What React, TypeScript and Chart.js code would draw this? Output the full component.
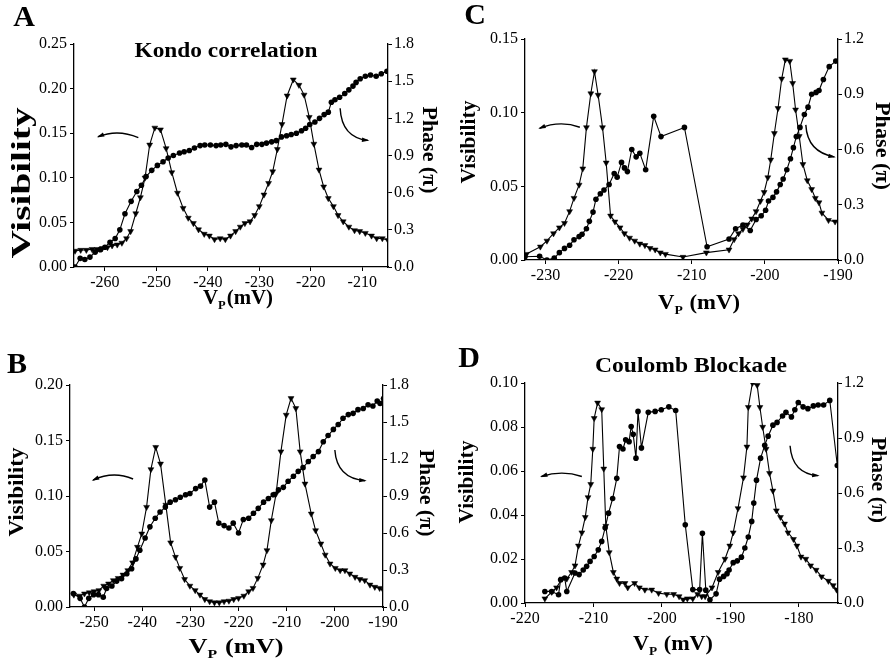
import React, { useEffect, useRef } from "react";
import { Chart, registerables } from "chart.js";

Chart.register(...registerables);

const FONT = "'Liberation Serif', 'Times New Roman', Times, serif";

// ---------------- Panel A : Kondo correlation ----------------
const aXTicks = [-260, -250, -240, -230, -220, -210];
const aVisTicks = [0, 0.05, 0.1, 0.15, 0.2, 0.25];
const aPhaseTicks = [0, 0.3, 0.6, 0.9, 1.2, 1.5, 1.8];
const aVisX = [-265.8, -264.7, -263.6, -262.5, -261.5, -260.5, -259.5, -258.6, -257.6, -256.7, -255.8, -255.0, -254.0, -253.1, -252.2, -251.3, -250.3, -249.2, -248.1, -247.0, -245.9, -244.8, -243.8, -242.8, -241.8, -240.7, -239.7, -238.7, -237.6, -236.6, -235.6, -234.6, -233.7, -232.8, -231.8, -230.9, -230.0, -229.1, -228.2, -227.4, -226.5, -225.6, -224.6, -223.4, -222.3, -221.3, -220.3, -219.4, -218.4, -217.5, -216.6, -215.6, -214.7, -213.7, -212.6, -211.5, -210.5, -209.4, -208.2, -207.2, -206.1, -205.0];
const aVisY = [0.018, 0.019, 0.019, 0.020, 0.020, 0.021, 0.022, 0.024, 0.025, 0.027, 0.032, 0.040, 0.060, 0.078, 0.100, 0.137, 0.156, 0.154, 0.133, 0.106, 0.083, 0.066, 0.055, 0.049, 0.042, 0.037, 0.035, 0.031, 0.032, 0.031, 0.035, 0.040, 0.045, 0.049, 0.051, 0.058, 0.068, 0.081, 0.094, 0.107, 0.132, 0.160, 0.192, 0.210, 0.204, 0.193, 0.168, 0.138, 0.109, 0.090, 0.077, 0.068, 0.058, 0.051, 0.045, 0.041, 0.040, 0.038, 0.035, 0.032, 0.032, 0.030];
const aPhaseX = [-265.8, -264.8, -263.9, -262.9, -261.9, -260.9, -260.0, -259.0, -258.0, -257.1, -256.1, -254.9, -253.8, -252.9, -252.0, -250.9, -249.8, -248.7, -247.7, -246.7, -245.5, -244.6, -243.6, -242.6, -241.5, -240.6, -239.5, -238.4, -237.5, -236.5, -235.5, -234.5, -233.4, -232.5, -231.5, -230.5, -229.5, -228.6, -227.6, -226.7, -225.7, -224.7, -223.8, -222.8, -221.8, -221.0, -220.2, -219.2, -218.3, -217.4, -216.6, -216.0, -215.3, -214.4, -213.4, -212.6, -211.8, -211.2, -210.4, -209.4, -208.4, -207.3, -206.3, -205.2];
const aPhaseY = [0.0, 0.07, 0.06, 0.08, 0.12, 0.14, 0.16, 0.20, 0.23, 0.30, 0.43, 0.53, 0.61, 0.66, 0.73, 0.78, 0.82, 0.85, 0.88, 0.90, 0.92, 0.93, 0.94, 0.96, 0.98, 0.985, 0.985, 0.98, 0.985, 0.99, 0.97, 0.98, 0.985, 0.985, 0.965, 0.99, 0.99, 1.0, 1.01, 1.02, 1.05, 1.06, 1.07, 1.08, 1.10, 1.12, 1.15, 1.17, 1.20, 1.23, 1.25, 1.33, 1.35, 1.37, 1.40, 1.43, 1.46, 1.49, 1.52, 1.54, 1.55, 1.54, 1.56, 1.58];

// ---------------- Panel B ----------------
const bXTicks = [-250, -240, -230, -220, -210, -200, -190];
const bVisTicks = [0, 0.05, 0.1, 0.15, 0.2];
const bPhaseTicks = [0, 0.3, 0.6, 0.9, 1.2, 1.5, 1.8];
const bVisX = [-254.2, -253.0, -252.0, -251.0, -250.0, -249.0, -248.0, -247.0, -246.0, -245.0, -244.0, -243.0, -242.0, -241.0, -240.1, -239.1, -238.2, -237.2, -236.2, -235.1, -234.1, -233.1, -232.2, -231.2, -230.1, -229.0, -228.0, -227.0, -226.0, -225.0, -224.0, -223.0, -222.0, -221.0, -220.0, -218.9, -217.9, -217.0, -216.0, -214.9, -214.1, -213.2, -212.2, -211.2, -210.1, -209.1, -208.1, -207.2, -206.2, -204.9, -204.0, -202.9, -202.0, -201.0, -199.9, -198.9, -197.9, -196.9, -195.8, -194.8, -193.8, -192.7, -191.7, -190.7, -189.9];
const bVisY = [0.011, 0.010, 0.012, 0.013, 0.014, 0.015, 0.019, 0.021, 0.024, 0.026, 0.029, 0.033, 0.040, 0.054, 0.066, 0.090, 0.124, 0.144, 0.129, 0.092, 0.058, 0.045, 0.035, 0.025, 0.019, 0.015, 0.011, 0.007, 0.005, 0.004, 0.004, 0.005, 0.0055, 0.007, 0.008, 0.010, 0.014, 0.017, 0.026, 0.038, 0.051, 0.078, 0.102, 0.140, 0.173, 0.188, 0.179, 0.140, 0.111, 0.084, 0.069, 0.057, 0.047, 0.039, 0.035, 0.033, 0.033, 0.030, 0.027, 0.025, 0.024, 0.020, 0.018, 0.017, 0.015];
const bPhaseX = [-254.3, -252.9, -252.0, -251.1, -250.1, -249.1, -248.1, -247.4, -246.3, -245.3, -244.3, -243.2, -242.2, -241.3, -240.5, -239.4, -238.4, -237.3, -236.3, -235.2, -234.2, -233.1, -232.1, -231.0, -230.1, -228.9, -227.9, -227.0, -226.0, -225.0, -224.1, -223.0, -222.0, -221.1, -220.0, -219.0, -217.9, -216.9, -215.9, -214.8, -213.8, -212.8, -211.7, -210.7, -209.7, -208.6, -207.6, -206.6, -205.5, -204.5, -203.4, -202.4, -201.4, -200.3, -199.3, -198.3, -197.2, -196.2, -195.2, -194.1, -193.1, -192.1, -191.2, -190.6, -189.9];
const bPhaseY = [0.11, 0.07, 0.0, 0.07, 0.10, 0.10, 0.08, 0.15, 0.17, 0.21, 0.23, 0.27, 0.31, 0.39, 0.46, 0.56, 0.65, 0.72, 0.77, 0.81, 0.85, 0.87, 0.89, 0.91, 0.92, 0.96, 0.98, 1.03, 0.81, 0.85, 0.68, 0.66, 0.64, 0.68, 0.60, 0.71, 0.72, 0.76, 0.80, 0.85, 0.88, 0.91, 0.95, 0.97, 1.02, 1.06, 1.10, 1.13, 1.18, 1.22, 1.26, 1.34, 1.39, 1.44, 1.48, 1.53, 1.56, 1.57, 1.60, 1.61, 1.64, 1.63, 1.67, 1.65, 1.69];

// ---------------- Panel C ----------------
const cXTicks = [-230, -220, -210, -200, -190];
const cVisTicks = [0, 0.05, 0.1, 0.15];
const cPhaseTicks = [0, 0.3, 0.6, 0.9, 1.2];
const cVisX = [-232.6, -230.7, -229.8, -228.9, -228.1, -227.4, -226.7, -226.1, -225.4, -224.9, -224.4, -223.8, -223.3, -222.8, -222.2, -221.7, -221.1, -220.5, -219.8, -219.2, -218.5, -217.8, -217.1, -216.4, -215.7, -215.0, -214.3, -213.6, -211.2, -208.0, -204.9, -204.2, -203.6, -203.0, -202.4, -201.8, -201.2, -200.6, -200.1, -199.6, -199.2, -198.7, -198.2, -197.7, -197.2, -196.6, -196.2, -195.8, -195.3, -194.8, -194.2, -193.6, -193.1, -192.6, -192.2, -191.3, -190.4];
const cVisY = [0.004, 0.009, 0.013, 0.018, 0.022, 0.025, 0.033, 0.042, 0.051, 0.062, 0.090, 0.113, 0.128, 0.112, 0.090, 0.066, 0.030, 0.026, 0.022, 0.018, 0.015, 0.013, 0.011, 0.010, 0.008, 0.007, 0.005, 0.004, 0.002, 0.005, 0.007, 0.014, 0.018, 0.021, 0.024, 0.028, 0.033, 0.040, 0.046, 0.056, 0.068, 0.086, 0.103, 0.123, 0.136, 0.135, 0.120, 0.102, 0.084, 0.065, 0.054, 0.048, 0.042, 0.039, 0.032, 0.027, 0.026];
const cPhaseX = [-232.8, -230.8, -229.8, -228.8, -228.1, -227.4, -226.7, -226.1, -225.4, -225.0, -224.4, -224.0, -223.5, -223.1, -222.5, -222.0, -221.3, -220.6, -220.2, -219.6, -219.2, -218.8, -218.2, -217.6, -217.1, -216.3, -215.2, -214.2, -211.0, -207.9, -204.9, -204.0, -203.0, -202.0, -201.2, -200.5, -199.9, -199.5, -198.9, -198.4, -197.9, -197.5, -197.0, -196.5, -196.1, -195.7, -195.2, -194.6, -194.1, -193.6, -193.0, -192.6, -192.0, -191.2, -190.3];
const cPhaseY = [0.018, 0.02, 0.0, 0.01, 0.04, 0.063, 0.08, 0.11, 0.127, 0.14, 0.17, 0.21, 0.26, 0.33, 0.36, 0.38, 0.41, 0.47, 0.45, 0.53, 0.50, 0.48, 0.60, 0.56, 0.58, 0.49, 0.78, 0.67, 0.72, 0.072, 0.114, 0.17, 0.19, 0.16, 0.22, 0.24, 0.27, 0.32, 0.34, 0.37, 0.41, 0.44, 0.49, 0.55, 0.61, 0.67, 0.72, 0.79, 0.83, 0.90, 0.91, 0.92, 0.98, 1.05, 1.08];

// ---------------- Panel D : Coulomb Blockade ----------------
const dXTicks = [-220, -210, -200, -190, -180];
const dVisTicks = [0, 0.02, 0.04, 0.06, 0.08, 0.1];
const dPhaseTicks = [0, 0.3, 0.6, 0.9, 1.2];
const dVisX = [-217.1, -216.1, -215.4, -214.6, -213.9, -213.2, -212.7, -212.2, -211.7, -211.2, -210.8, -210.4, -210.1, -209.9, -209.4, -208.8, -208.5, -208.2, -207.7, -207.1, -206.6, -206.2, -205.4, -205.0, -204.0, -203.3, -202.5, -201.5, -200.5, -199.3, -198.3, -197.5, -196.9, -196.3, -195.5, -194.8, -194.2, -193.7, -192.7, -191.8, -190.8, -190.1, -189.6, -188.9, -188.1, -187.6, -187.4, -186.8, -186.1, -185.7, -185.3, -184.8, -184.3, -183.8, -183.3, -182.7, -182.1, -181.6, -180.8, -180.3, -179.7, -179.0, -178.3, -177.5, -176.7, -175.7, -175.0, -174.5];
const dVisY = [0.002, 0.005, 0.007, 0.011, 0.011, 0.014, 0.017, 0.026, 0.032, 0.039, 0.048, 0.054, 0.070, 0.084, 0.091, 0.088, 0.061, 0.035, 0.023, 0.014, 0.011, 0.009, 0.009, 0.007, 0.009, 0.007, 0.006, 0.006, 0.0045, 0.004, 0.004, 0.003, 0.0015, 0.002, 0.002, 0.004, 0.003, 0.003, 0.007, 0.014, 0.020, 0.026, 0.032, 0.043, 0.057, 0.071, 0.089, 0.100, 0.099, 0.089, 0.080, 0.070, 0.059, 0.051, 0.042, 0.039, 0.036, 0.032, 0.029, 0.026, 0.021, 0.020, 0.017, 0.015, 0.012, 0.010, 0.008, 0.006];
const dPhaseX = [-217.1, -216.1, -215.1, -214.8, -214.2, -213.9, -212.7, -212.1, -211.5, -211.0, -210.5, -209.9, -209.3, -208.8, -208.3, -207.8, -207.2, -206.6, -206.2, -205.7, -205.3, -204.8, -204.5, -204.2, -203.8, -203.5, -203.0, -202.0, -201.0, -200.1, -199.0, -198.0, -196.6, -195.5, -194.5, -194.1, -193.6, -193.0, -192.1, -191.6, -191.0, -190.5, -190.2, -189.6, -189.0, -188.4, -187.9, -187.4, -186.9, -186.6, -186.2, -185.6, -185.0, -184.5, -183.8, -183.2, -182.4, -181.9, -181.1, -180.6, -180.1, -179.4, -178.7, -177.9, -177.2, -176.4, -175.5, -174.4];
const dPhaseY = [0.063, 0.063, 0.045, 0.127, 0.136, 0.063, 0.164, 0.155, 0.18, 0.20, 0.227, 0.254, 0.29, 0.336, 0.41, 0.49, 0.57, 0.68, 0.854, 0.84, 0.89, 0.88, 0.963, 0.92, 0.79, 1.045, 0.846, 1.04, 1.045, 1.054, 1.07, 1.05, 0.427, 0.073, 0.073, 0.38, 0.07, 0.018, 0.05, 0.13, 0.145, 0.16, 0.18, 0.22, 0.23, 0.25, 0.30, 0.36, 0.445, 0.545, 0.67, 0.79, 0.86, 0.91, 0.97, 0.985, 1.02, 1.04, 1.015, 1.054, 1.094, 1.07, 1.06, 1.075, 1.08, 1.08, 1.105, 0.75];

// Curved guide arrows, in data units of (x, visibility): start, control, end (head at end)
const aArrows = [[-253.5, 0.145, -257.5, 0.155, -261.3, 0.146], [-214.3, 0.178, -214.0, 0.145, -208.9, 0.142]];
const bArrows = [[-241.9, 0.1153, -246.0, 0.123, -250.2, 0.1144], [-200.0, 0.1415, -199.6, 0.116, -193.7, 0.1138]];
const cArrows = [[-225.3, 0.0901, -228.0, 0.095, -230.8, 0.0894], [-194.4, 0.0917, -194.2, 0.0733, -190.5, 0.070]];
const dArrows = [[-211.7, 0.0575, -214.6, 0.0606, -217.6, 0.0575], [-181.3, 0.0715, -181.0, 0.0588, -177.2, 0.0579]];

type Spec = {
  id: string;
  left: number; top: number; w: number; h: number;
  area: { l: number; r: number; t: number; b: number };
  xMin: number; xMax: number; xTicks: number[];
  visMax: number; visTicks: number[]; phMax: number; phTicks: number[];
  visX: number[]; visY: number[]; phX: number[]; phY: number[];
  arrows: number[][];
  letter: [string, number, number];
  title?: [string, number, number, number];
  xTitle: [string, number, number, number];
  visLabel: [number, number, number, number];
  phLabel: [number, number, number];
};

const PANELS: Spec[] = [
  {
    id: "A", left: 0, top: 0, w: 445, h: 330,
    area: { l: 74, r: 388, t: 44, b: 267 },
    xMin: -266, xMax: -205, xTicks: aXTicks,
    visMax: 0.25, visTicks: aVisTicks, phMax: 1.8, phTicks: aPhaseTicks,
    visX: aVisX, visY: aVisY, phX: aPhaseX, phY: aPhaseY,
    arrows: aArrows,
    letter: ["A", 24, 18],
    title: ["Kondo correlation", 226, 52, 183],
    xTitle: ["(mV)", 238, 299, 70],
    visLabel: [23, 183, 151, 27],
    phLabel: [429, 150, 87],
  },
  {
    id: "C", left: 445, top: 0, w: 445, h: 330,
    area: { l: 80, r: 393, t: 39, b: 260 },
    xMin: -232.8, xMax: -190, xTicks: cXTicks,
    visMax: 0.15, visTicks: cVisTicks, phMax: 1.2, phTicks: cPhaseTicks,
    visX: cVisX, visY: cVisY, phX: cPhaseX, phY: cPhaseY,
    arrows: cArrows,
    letter: ["C", 475, 16],
    xTitle: [" (mV)", 699, 304, 82],
    visLabel: [469, 142, 83, 22],
    phLabel: [882, 146, 88],
  },
  {
    id: "B", left: 0, top: 330, w: 445, h: 334,
    area: { l: 70, r: 383, t: 55, b: 277 },
    xMin: -255, xMax: -190, xTicks: bXTicks,
    visMax: 0.2, visTicks: bVisTicks, phMax: 1.8, phTicks: bPhaseTicks,
    visX: bVisX, visY: bVisY, phX: bPhaseX, phY: bPhaseY,
    arrows: bArrows,
    letter: ["B", 17, 365],
    xTitle: [" (mV)", 236, 648, 95],
    visLabel: [17, 492, 89, 22],
    phLabel: [426, 493, 87],
  },
  {
    id: "D", left: 445, top: 330, w: 445, h: 334,
    area: { l: 80, r: 393, t: 53, b: 273 },
    xMin: -220, xMax: -174.3, xTicks: dXTicks,
    visMax: 0.1, visTicks: dVisTicks, phMax: 1.2, phTicks: dPhaseTicks,
    visX: dVisX, visY: dVisY, phX: dPhaseX, phY: dPhaseY,
    arrows: dArrows,
    letter: ["D", 469, 359],
    title: ["Coulomb Blockade", 691, 367, 192],
    xTitle: [" (mV)", 673, 645, 80],
    visLabel: [467, 482, 83, 22],
    phLabel: [878, 480, 86],
  },
];

function drawStretched(ctx: CanvasRenderingContext2D, text: string, x: number, y: number, font: string, rot: number, len?: number) {
  ctx.save();
  ctx.translate(x, y);
  ctx.rotate(rot);
  ctx.font = font;
  ctx.textAlign = "center";
  ctx.textBaseline = "middle";
  if (len) {
    const w = ctx.measureText(text).width;
    ctx.scale(len / w, 1);
  }
  ctx.fillText(text, 0, 0);
  ctx.restore();
}

function makeDecor(spec: Spec) {
  return {
    id: "panelDecor" + spec.id,
    afterDraw(chart: any) {
      const ctx: CanvasRenderingContext2D = chart.ctx;
      const xs = chart.scales.x;
      const ys = chart.scales.y;
      const ox = spec.left, oy = spec.top;
      ctx.save();
      ctx.fillStyle = "#000";
      ctx.strokeStyle = "#000";
      // arrows
      for (const a of spec.arrows) {
        const x1 = xs.getPixelForValue(a[0]), y1 = ys.getPixelForValue(a[1]);
        const cx = xs.getPixelForValue(a[2]), cy = ys.getPixelForValue(a[3]);
        const x2 = xs.getPixelForValue(a[4]), y2 = ys.getPixelForValue(a[5]);
        ctx.beginPath();
        ctx.moveTo(x1, y1);
        ctx.quadraticCurveTo(cx, cy, x2, y2);
        ctx.lineWidth = 1.4;
        ctx.stroke();
        const ang = Math.atan2(y2 - cy, x2 - cx);
        const ux = Math.cos(ang), uy = Math.sin(ang);
        const L = 6, W = 2.2;
        ctx.beginPath();
        ctx.moveTo(x2 + ux * 1.5, y2 + uy * 1.5);
        ctx.lineTo(x2 - ux * L - uy * W, y2 - uy * L + ux * W);
        ctx.lineTo(x2 - ux * L + uy * W, y2 - uy * L - ux * W);
        ctx.closePath();
        ctx.fill();
      }
      // letter
      drawStretched(ctx, spec.letter[0], spec.letter[1] - ox, spec.letter[2] - oy, `bold 30px ${FONT}`, 0);
      // inner title
      if (spec.title) {
        drawStretched(ctx, spec.title[0], spec.title[1] - ox, spec.title[2] - oy, `bold 21px ${FONT}`, 0, spec.title[3]);
      }
      // axis titles
      drawStretched(ctx, "Visibility", spec.visLabel[0] - ox, spec.visLabel[1] - oy, `bold ${spec.visLabel[3]}px ${FONT}`, -Math.PI / 2, spec.visLabel[2]);
      drawStretched(ctx, "Phase (\u03c0)", spec.phLabel[0] - ox, spec.phLabel[1] - oy, `bold 22px ${FONT}`, Math.PI / 2, spec.phLabel[2]);
      // x title with subscript
      const [rest, tx, ty, tlen] = spec.xTitle;
      const big = `bold 20px ${FONT}`;
      const small = `bold 12px ${FONT}`;
      ctx.font = big;
      const wV = ctx.measureText("V").width;
      const wR = ctx.measureText(rest).width;
      ctx.font = small;
      const wP = ctx.measureText("P").width + 1;
      const total = wV + wP + wR;
      ctx.save();
      ctx.translate(tx - ox, ty - oy);
      ctx.scale(tlen / total, 1);
      ctx.textAlign = "left";
      ctx.textBaseline = "middle";
      let cur = -total / 2;
      ctx.font = big;
      ctx.fillText("V", cur, 0);
      cur += wV;
      ctx.font = small;
      ctx.fillText("P", cur, 7);
      cur += wP;
      ctx.font = big;
      ctx.fillText(rest, cur, 0);
      ctx.restore();
      ctx.restore();
    },
  };
}

function buildConfig(spec: Spec): any {
  const tickFont = { family: FONT, size: 16 };
  const gridOpts = { drawOnChartArea: false, drawTicks: true, tickLength: 4, color: "#000", lineWidth: 1 };
  const borderOpts = { display: true, color: "#000", width: 1.3 };
  return {
    type: "line",
    data: {
      datasets: [
        {
          label: "Visibility",
          data: spec.visX.map((x, i) => ({ x, y: spec.visY[i] })),
          yAxisID: "y",
          borderColor: "#000",
          backgroundColor: "#000",
          borderWidth: 1.1,
          pointStyle: "triangle",
          pointRotation: 180,
          pointRadius: 3.4,
          pointBorderWidth: 0.5,
          tension: 0,
        },
        {
          label: "Phase",
          data: spec.phX.map((x, i) => ({ x, y: spec.phY[i] })),
          yAxisID: "y1",
          borderColor: "#000",
          backgroundColor: "#000",
          borderWidth: 1.1,
          pointStyle: "circle",
          pointRadius: 2.8,
          pointBorderWidth: 0,
          tension: 0,
        },
      ],
    },
    options: {
      animation: false,
      responsive: false,
      maintainAspectRatio: false,
      events: [],
      layout: { padding: { top: spec.area.t, left: 0, right: 0, bottom: 0 } },
      plugins: { legend: { display: false }, tooltip: { enabled: false }, title: { display: false } },
      scales: {
        x: {
          type: "linear",
          min: spec.xMin,
          max: spec.xMax,
          afterBuildTicks: (s: any) => { s.ticks = spec.xTicks.map((v) => ({ value: v })); },
          afterFit: (s: any) => { s.height = spec.h - spec.area.b; },
          grid: gridOpts,
          border: borderOpts,
          ticks: { color: "#000", font: tickFont, padding: 2, maxRotation: 0, autoSkip: false, callback: (v: number) => String(v) },
        },
        y: {
          type: "linear",
          position: "left",
          min: 0,
          max: spec.visMax,
          afterBuildTicks: (s: any) => { s.ticks = spec.visTicks.map((v) => ({ value: v })); },
          afterFit: (s: any) => { s.width = spec.area.l; },
          grid: gridOpts,
          border: borderOpts,
          ticks: { color: "#000", font: tickFont, padding: 3, autoSkip: false, callback: (v: number) => Number(v).toFixed(2) },
        },
        y1: {
          type: "linear",
          position: "right",
          min: 0,
          max: spec.phMax,
          afterBuildTicks: (s: any) => { s.ticks = spec.phTicks.map((v) => ({ value: v })); },
          afterFit: (s: any) => { s.width = spec.w - spec.area.r; },
          grid: gridOpts,
          border: borderOpts,
          ticks: { color: "#000", font: tickFont, padding: 2, autoSkip: false, callback: (v: number) => Number(v).toFixed(1) },
        },
      },
    },
    plugins: [makeDecor(spec)],
  };
}

function Panel({ spec }: { spec: Spec }) {
  const ref = useRef<HTMLCanvasElement>(null);
  useEffect(() => {
    if (!ref.current) return;
    const chart = new Chart(ref.current, buildConfig(spec));
    return () => chart.destroy();
  }, [spec]);
  return (
    <canvas
      ref={ref}
      width={spec.w}
      height={spec.h}
      style={{ position: "absolute", left: spec.left, top: spec.top, width: spec.w, height: spec.h }}
    />
  );
}

export default function App() {
  return (
    <div style={{ position: "absolute", left: 0, top: 0, width: 890, height: 664, background: "#fff", overflow: "hidden" }}>
      {PANELS.map((p) => (
        <Panel key={p.id} spec={p} />
      ))}
    </div>
  );
}
